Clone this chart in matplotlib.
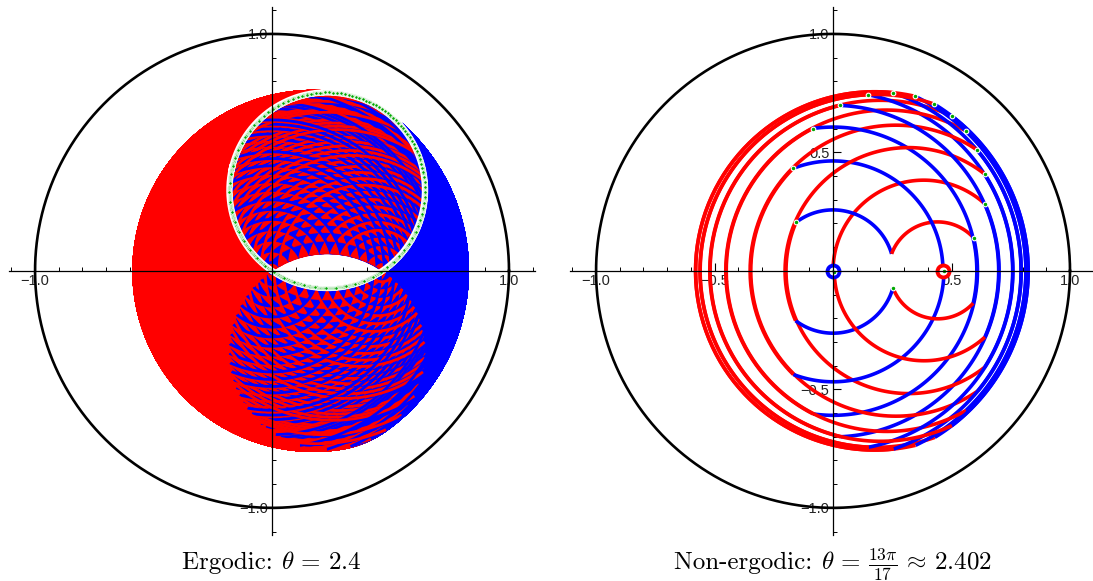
import numpy as np
import matplotlib
matplotlib.use("Agg")
import matplotlib.pyplot as plt
from matplotlib.ticker import FixedLocator, NullFormatter
from matplotlib.collections import LineCollection

# ---------------- data ----------------
THETA_LEFT = 2.4                      # rotation parameter, left panel
THETA_RIGHT = 13 * np.pi / 17         # rotation parameter, right panel
CENTER_C = 0.466                      # second rotation centre (red), on the real axis
START_POINT = 0.0 + 0.0j              # orbit starts at the origin (blue centre)
STEPS_LEFT = 2500
STEPS_RIGHT = 17
MAJOR_TICKS = [-1.0, -0.5, 0.5, 1.0]
MINOR_TICKS = [-1.1, -0.9, -0.8, -0.7, -0.6, -0.4, -0.3, -0.2, -0.1,
               0.1, 0.2, 0.3, 0.4, 0.6, 0.7, 0.8, 0.9, 1.1]
TICK_LABELS = ["\u22121.0", "\u22120.5", "0.5", "1.0"]
TITLE_TEXT = ["Ergodic: ", "Non-ergodic: "]
TITLE_MATH = [r"$\theta\,=\,2.4$", r"$\theta\,=\,\frac{13\pi}{17}\,\approx\,2.402$"]

BLUE = "#0000ff"
RED = "#ff0000"
GREEN = "#00a800"

plt.rcParams["mathtext.fontset"] = "cm"
plt.rcParams["font.family"] = ["Liberation Sans", "DejaVu Sans"]


def rot_origin(z, t):
    return z * np.exp(-1j * t)


def rot_c(z, t, c):
    w = (z - c) / (1 - c * z)
    w = w * np.exp(-1j * t)
    return (w + c) / (1 + c * w)


def orbit(theta, n_steps, c, z0, n_arc=90):
    phi = np.pi - theta / 2.0
    ts = np.linspace(0.0, phi, n_arc)
    arcs, colors, pts = [], [], [z0]
    g = z0
    for _ in range(n_steps):
        barc = rot_origin(g, ts)
        h = barc[-1]
        rarc = rot_c(h, ts, c)
        g = rarc[-1]
        arcs.append(np.column_stack([barc.real, barc.imag]))
        colors.append(BLUE)
        arcs.append(np.column_stack([rarc.real, rarc.imag]))
        colors.append(RED)
        pts.append(g)
    return arcs, colors, np.array(pts)


def style_axes(ax):
    ax.set_xlim(-1.11, 1.11)
    ax.set_ylim(-1.115, 1.115)
    ax.set_aspect("equal")
    for s in ["top", "right"]:
        ax.spines[s].set_visible(False)
    for s in ["left", "bottom"]:
        ax.spines[s].set_position(("data", 0))
        ax.spines[s].set_linewidth(0.9)
        ax.spines[s].set_zorder(6)
    ax.set_xticks(MAJOR_TICKS)
    ax.set_xticklabels(TICK_LABELS)
    ax.set_yticks(MAJOR_TICKS)
    ax.set_yticklabels(TICK_LABELS)
    ax.xaxis.set_minor_locator(FixedLocator(MINOR_TICKS))
    ax.yaxis.set_minor_locator(FixedLocator(MINOR_TICKS))
    ax.xaxis.set_minor_formatter(NullFormatter())
    ax.yaxis.set_minor_formatter(NullFormatter())
    ax.tick_params(which="major", direction="in", length=5.5, width=0.8,
                   labelsize=10.5, pad=2.5, labelcolor="#222222")
    ax.tick_params(which="minor", direction="in", length=3, width=0.7)
    tt = np.linspace(0, 2 * np.pi, 400)
    ax.plot(np.cos(tt), np.sin(tt), color="black", lw=1.9, zorder=5)


fig = plt.figure(figsize=(10.93, 5.81), dpi=100)
ax_l = fig.add_axes([0.00823, 0.0768, 0.4813, 0.9139])
ax_r = fig.add_axes([0.5215, 0.0768, 0.4813, 0.9139])

panels = [(ax_l, THETA_LEFT, STEPS_LEFT), (ax_r, THETA_RIGHT, STEPS_RIGHT)]
for i, (ax, theta, n) in enumerate(panels):
    style_axes(ax)
    arcs, cols, pts = orbit(theta, n, CENTER_C, START_POINT)
    lw = 2.6 if i == 1 else 2.0
    lc = LineCollection(arcs, colors=cols, linewidths=lw, capstyle="butt", zorder=2)
    ax.add_collection(lc)
    if i == 1:
        ax.plot([START_POINT.real], [START_POINT.imag], "o", ms=8.6, mfc="white",
                mec=BLUE, mew=2.8, zorder=3)
        ax.plot([CENTER_C], [0], "o", ms=8.6, mfc="white", mec=RED, mew=2.8, zorder=3)
        ax.scatter(pts.real, pts.imag, s=11, c=GREEN, edgecolors="white",
                   linewidths=0.8, zorder=4)
    else:
        # white band under the dense orbit points (points joined in angular order)
        ctr = pts.mean()
        order = np.argsort(np.angle(pts - ctr))
        ring = np.append(pts[order], pts[order][0])
        ax.plot(ring.real, ring.imag, color="white", lw=4.6, zorder=3.5,
                solid_joinstyle="round")
        ax.scatter(pts.real, pts.imag, s=5.5, c=GREEN, edgecolors="white",
                   linewidths=0.45, zorder=4)

for k, xc in enumerate([272, 833]):
    t1 = fig.text(0, 0, TITLE_TEXT[k], fontsize=18, fontfamily="cmr10")
    t2 = fig.text(0, 0, TITLE_MATH[k], fontsize=18)
    fig.canvas.draw()
    r = fig.canvas.get_renderer()
    w1 = t1.get_window_extent(r).width
    w2 = t2.get_window_extent(r).width
    x0 = xc - (w1 + w2) / 2.0
    yb = 581 - 569
    t1.set_position((x0 / 1093, yb / 581))
    t2.set_position(((x0 + w1) / 1093, yb / 581))
    t1.set_va("baseline")
    t2.set_va("baseline")

fig.savefig("out.png", dpi=100)
